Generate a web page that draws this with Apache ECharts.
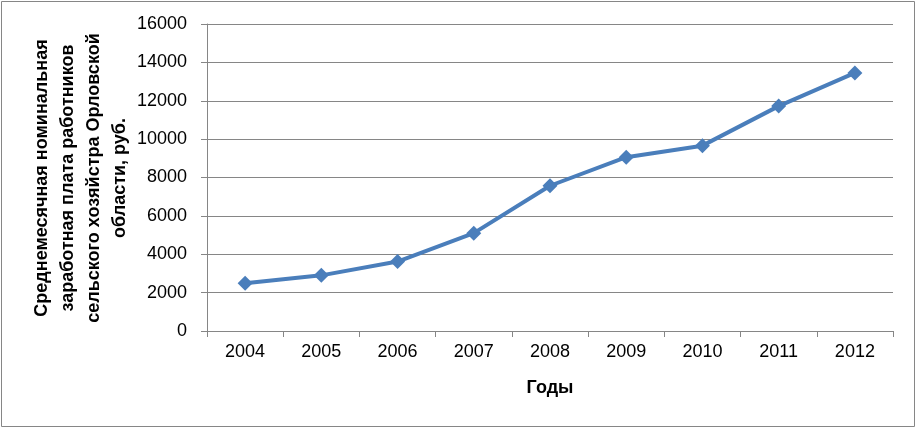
<!DOCTYPE html>
<html><head><meta charset="utf-8">
<script src="https://cdn.jsdelivr.net/npm/echarts@6/dist/echarts.min.js"></script>
<style>html,body{margin:0;padding:0;background:#fff}#c{width:916px;height:428px}</style>
</head><body><div id="c"></div>
<script>
const years = ['2004','2005','2006','2007','2008','2009','2010','2011','2012'];
const salary = [2490, 2900, 3620, 5100, 7570, 9060, 9660, 11720, 13450];
const yTitle = 'Среднемесячная номинальная\nзаработная плата работников\nсельского хозяйстра Орловской\nобласти, руб.';
const xTitle = 'Годы';

const chart = echarts.init(document.getElementById('c'), null, {renderer:'canvas'});
const FONT = '"Liberation Sans", Arial, sans-serif';
const GRAY = '#868686';
chart.setOption({
  animation:false,
  backgroundColor:'#fff',
  grid:{left:207, right:23, top:24, bottom:97},
  xAxis:{
    type:'category', data:years, boundaryGap:true,
    name:xTitle, nameLocation:'middle', nameGap:48,
    nameTextStyle:{fontFamily:FONT, fontSize:18, fontWeight:'bold', color:'#000'},
    axisLine:{lineStyle:{color:GRAY, width:1}},
    axisTick:{show:true, alignWithLabel:false, length:6, lineStyle:{color:GRAY}},
    axisLabel:{fontFamily:FONT, fontSize:18, color:'#000', margin:12},
    splitLine:{show:false}
  },
  yAxis:{
    type:'value', min:0, max:16000, interval:2000,
    axisLine:{show:true, lineStyle:{color:GRAY, width:1}},
    axisTick:{show:true, length:6, lineStyle:{color:GRAY}},
    axisLabel:{fontFamily:FONT, fontSize:18, color:'#000', margin:20, formatter:function(v){return String(v);}},
    splitLine:{show:true, lineStyle:{color:GRAY, width:1}}
  },
  graphic:[
    {type:'rect', shape:{x:1.5, y:1.5, width:913, height:425}, style:{fill:null, stroke:GRAY, lineWidth:1}, silent:true},
    {type:'text', x:81, y:178, rotation:Math.PI/2,
     style:{text:yTitle, font:'bold 18px "Liberation Sans", Arial, sans-serif', fill:'#000', textAlign:'center', textVerticalAlign:'middle', lineHeight:26}}
  ],
  series:[{
    type:'line', data:salary,
    symbol:'diamond', symbolSize:15,
    lineStyle:{color:'#4a7ebb', width:4},
    itemStyle:{color:'#4a7ebb'}
  }]
});
</script></body></html>
